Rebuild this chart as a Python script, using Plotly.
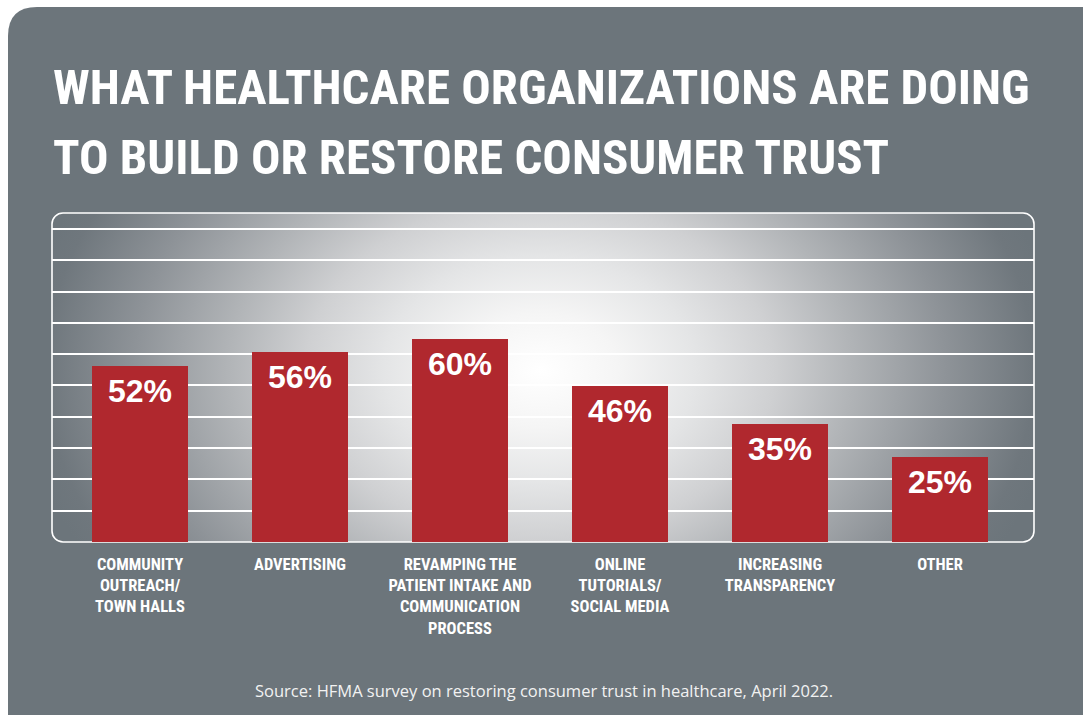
import base64
import plotly.graph_objects as go

# ---------------- data ----------------
categories = [
    "COMMUNITY<br>OUTREACH/<br>TOWN HALLS",
    "ADVERTISING",
    "REVAMPING THE<br>PATIENT INTAKE AND<br>COMMUNICATION<br>PROCESS",
    "ONLINE<br>TUTORIALS/<br>SOCIAL MEDIA",
    "INCREASING<br>TRANSPARENCY",
    "OTHER",
]
values = [52, 56, 60, 46, 35, 25]
title_lines = [
    "WHAT HEALTHCARE ORGANIZATIONS ARE DOING",
    "TO BUILD OR RESTORE CONSUMER TRUST",
]
source_text = "Source: HFMA survey on restoring consumer trust in healthcare, April 2022."

# ---------------- layout geometry ----------------
W, H = 1083, 715
L, R, T, B = 52, 1034, 213, 542          # plot area in pixels
PW, PH = R - L, B - T
PX_PER_PCT = 3.385
Y_MAX = PH / PX_PER_PCT
GRID_STEP = 9.25

PANEL = "#6c757b"
RED = "#b0282e"
NARROW = "Liberation Sans Narrow, Arial Narrow, Roboto Condensed, DejaVu Sans Condensed, sans-serif"


def px_x(x):
    return (x - L) / PW


def px_y(y):
    return (B - y) / PH


# background: white page, grey panel with rounded top-left corner, gradient box
svg = f"""<svg xmlns='http://www.w3.org/2000/svg' width='{W}' height='{H}' viewBox='0 0 {W} {H}' preserveAspectRatio='none'>
<defs>
<radialGradient id='g' gradientUnits='userSpaceOnUse' cx='540' cy='370' r='520'
 gradientTransform='translate(540 370) scale(1 0.73) translate(-540 -370)'>
<stop offset='0' stop-color='#ffffff'/>
<stop offset='0.15' stop-color='#f5f5f5'/>
<stop offset='0.3' stop-color='#e4e5e6'/>
<stop offset='0.45' stop-color='#cfd0d2'/>
<stop offset='0.6' stop-color='#b1b4b7'/>
<stop offset='0.78' stop-color='#8e9398'/>
<stop offset='0.95' stop-color='#6f777d'/>
<stop offset='1' stop-color='#6c757b'/>
</radialGradient>
</defs>
<rect x='0' y='0' width='{W}' height='{H}' fill='#ffffff'/>
<path d='M8 {H} L8 36 Q8 7 37 7 L{W} 7 L{W} {H} Z' fill='{PANEL}'/>
<rect x='{L}' y='{T}' width='{PW}' height='{PH}' rx='11' ry='11' fill='url(#g)' stroke='#ffffff' stroke-width='1.6'/>
</svg>"""
svg_uri = "data:image/svg+xml;base64," + base64.b64encode(svg.encode()).decode()

x_idx = list(range(len(categories)))

fig = go.Figure()
fig.add_trace(
    go.Bar(
        x=x_idx,
        y=values,
        width=0.6,
        marker=dict(color=RED, line=dict(width=0)),
        hoverinfo="skip",
    )
)

annotations = []
for i, v in zip(x_idx, values):
    annotations.append(
        dict(
            x=i, y=v, xref="x", yref="y",
            text=f"{v}%",
            showarrow=False,
            yanchor="top",
            yshift=-5,
            font=dict(family="Liberation Sans, Arial, sans-serif", size=32,
                      color="#ffffff", weight="bold"),
        )
    )

# title lines
for line, cy in zip(title_lines, [88, 157]):
    annotations.append(
        dict(
            x=px_x(51), y=px_y(cy), xref="paper", yref="paper",
            xanchor="left", yanchor="middle",
            text=line, showarrow=False,
            font=dict(family=NARROW, size=49, color="#ffffff", weight="bold"),
        )
    )

annotations.append(
    dict(
        x=px_x(544), y=px_y(690), xref="paper", yref="paper",
        xanchor="center", yanchor="middle",
        text=source_text, showarrow=False,
        font=dict(family="Open Sans, sans-serif", size=16.5, color="#f2f2f2"),
    )
)

fig.update_layout(
    width=W,
    height=H,
    margin=dict(l=L, r=W - R, t=T, b=H - B, pad=0),
    paper_bgcolor="#ffffff",
    plot_bgcolor="rgba(0,0,0,0)",
    showlegend=False,
    bargap=0,
    images=[
        dict(
            source=svg_uri,
            xref="paper", yref="paper",
            x=px_x(0), y=px_y(0),
            sizex=W / PW, sizey=H / PH,
            xanchor="left", yanchor="top",
            sizing="stretch",
            layer="below",
        )
    ],
    annotations=annotations,
    xaxis=dict(
        range=[(L - 140) / 160, (R - 140) / 160],
        tickmode="array",
        tickvals=x_idx,
        ticktext=categories,
        showgrid=False,
        zeroline=False,
        showline=False,
        ticks="",
        ticklabelstandoff=10,
        tickfont=dict(family=NARROW, size=16.5, color="#ffffff", weight="bold"),
        fixedrange=True,
    ),
    yaxis=dict(
        range=[0, Y_MAX],
        tick0=0,
        dtick=GRID_STEP,
        showgrid=True,
        gridcolor="#ffffff",
        gridwidth=1.6,
        zeroline=False,
        showline=False,
        showticklabels=False,
        ticks="",
        fixedrange=True,
    ),
)

fig.write_html("out.html")
